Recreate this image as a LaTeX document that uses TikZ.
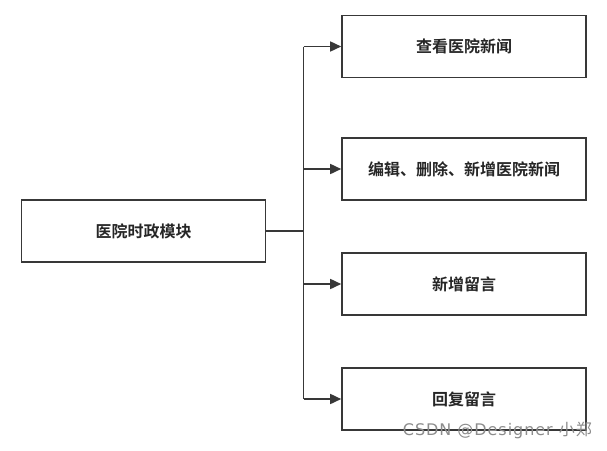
\documentclass[tikz,border=0pt]{standalone}
\usepackage{fontspec}
\newfontfamily\cjk{Noto Sans CJK SC}[BoldFont={Noto Sans CJK SC Bold}]
\newfontfamily\wmfont{DejaVu Sans}[LetterSpace=6]
\newfontfamily\wmcjk{Noto Sans CJK SC}[LetterSpace=6]
\usetikzlibrary{arrows.meta}
\begin{document}
\begin{tikzpicture}[x=1pt,y=-1pt,
  box/.style={draw=black!78,line width=1.6pt,fill=white,minimum width=244pt,minimum height=62pt,inner sep=0pt,font=\cjk\bfseries\fontsize{16}{18}\selectfont,text=black!85},
  conn/.style={draw=black!78,line width=1.6pt},
  arr/.style={conn,-{Triangle[length=11pt,width=10pt]}}]
\useasboundingbox (0,0) rectangle (607,450);
\fill[white] (0,0) rectangle (607,450);
\node[box] (m) at (143.5,231) {医院时政模块};
\node[box] (a) at (464,46.5) {查看医院新闻};
\node[box] (b) at (464,169) {编辑、删除、新增医院新闻};
\node[box] (c) at (464,284) {新增留言};
\node[box] (d) at (464,399) {回复留言};
\coordinate (j) at (303.5,231);
\coordinate (ja) at (303.5,46.5);
\coordinate (jd) at (303.5,399);
\draw[conn] (m.east) -- (j);
\draw[conn] (ja) -- (jd);
\draw[arr] (ja) -- (a.west);
\draw[arr] (b.west -| j) -- (b.west);
\draw[arr] (c.west -| j) -- (c.west);
\draw[arr] (jd) -- (d.west);
\node[text=black!45,font=\wmfont\fontsize{16}{17}\selectfont,anchor=base east,inner sep=0pt] (w) at (592,435) {CSDN @Designer {\wmcjk 小郑}};
\end{tikzpicture}
\end{document}
